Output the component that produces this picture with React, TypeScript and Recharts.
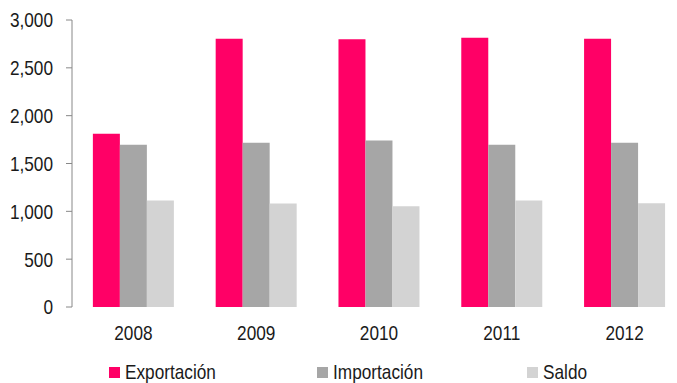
import React from 'react'
import { BarChart, Bar, XAxis, YAxis, Legend } from 'recharts'

// datos
const years = ['2008', '2009', '2010', '2011', '2012']
const exportacion = [1810, 2805, 2798, 2815, 2805]
const importacion = [1697, 1718, 1740, 1697, 1718]
const saldo = [1112, 1082, 1053, 1112, 1084]
const yTicks = [0, 500, 1000, 1500, 2000, 2500, 3000]
const edgeTicks = [0, 1, 2, 3, 4, 5]

const seriesNames = ['Exportación', 'Importación', 'Saldo']
const seriesColors = ['#FF0066', '#A6A6A6', '#D3D3D3']

const data = years.map((y, i) => ({
  year: y,
  Exportación: exportacion[i],
  Importación: importacion[i],
  Saldo: saldo[i],
}))

// la fuente original es tipo Arial Narrow: se estrecha Liberation Sans
const font = '"Liberation Sans", Arial, sans-serif'
const fontSize = 21
const narrow = 0.82
const axisColor = '#888888'
const textColor = '#1a1a1a'

const legendLeft = [109, 317, 527]

const XTick = ({ x, y, payload }: any) => (
  <g transform={`translate(${x},${y})`}>
    <text transform={`scale(${narrow},1)`} textAnchor="middle" dy="0.71em" fill={textColor} fontSize={fontSize} fontFamily={font}>
      {payload.value}
    </text>
  </g>
)

const YTick = ({ x, y, payload }: any) => (
  <g transform={`translate(${x},${y})`}>
    <text transform={`scale(${narrow},1)`} textAnchor="end" dy="0.355em" fill={textColor} fontSize={fontSize} fontFamily={font}>
      {Number(payload.value).toLocaleString('en-US')}
    </text>
  </g>
)

const renderLegend = () => (
  <div style={{ position: 'relative', width: 677, height: 36, fontFamily: font, fontSize, color: textColor }}>
    {seriesNames.map((name, i) => (
      <div
        key={name}
        style={{ position: 'absolute', left: legendLeft[i], top: 14, display: 'flex', alignItems: 'center', lineHeight: '22px', whiteSpace: 'nowrap' }}
      >
        <span style={{ display: 'inline-block', width: 11, height: 11, background: seriesColors[i], marginRight: 5 }} />
        <span style={{ display: 'inline-block', transform: `scaleX(${narrow})`, transformOrigin: 'left center' }}>{name}</span>
      </div>
    ))}
  </div>
)

export default function App() {
  return (
    <div style={{ position: 'absolute', left: 0, top: 0, width: 677, height: 383, overflow: 'hidden', background: '#fff' }}>
      <BarChart
        width={686}
        height={383}
        data={data}
        margin={{ top: 20, right: 0, bottom: 0, left: 0 }}
        barCategoryGap="17%"
        barGap={0}
      >
        <XAxis
          xAxisId="edges"
          type="number"
          domain={[0, 5]}
          ticks={edgeTicks}
          interval={0}
          allowDataOverflow
          height={0}
          stroke={axisColor}
          tickSize={6}
          tick={() => <g />}
        />
        <XAxis dataKey="year" height={40} axisLine={false} tickLine={false} tickMargin={12} tick={<XTick />} />
        <YAxis
          domain={[0, 3000]}
          ticks={yTicks}
          interval={0}
          width={72}
          stroke={axisColor}
          tickSize={6}
          tickMargin={13}
          tick={<YTick />}
        />
        <Legend verticalAlign="bottom" height={36} content={renderLegend} wrapperStyle={{ height: 36 }} />
        {seriesNames.map((name, i) => (
          <Bar key={name} dataKey={name} fill={seriesColors[i]} isAnimationActive={false} />
        ))}
      </BarChart>
    </div>
  )
}
